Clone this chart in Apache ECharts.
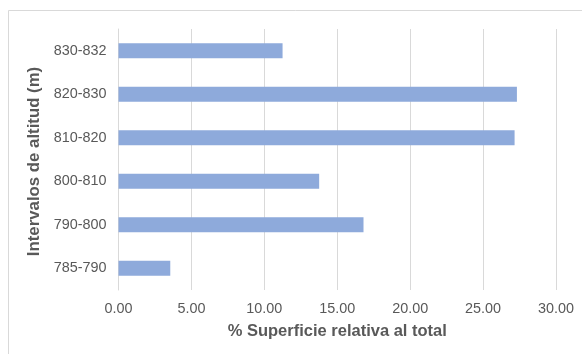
<!DOCTYPE html>
<html>
<head>
<meta charset="utf-8">
<script src="https://cdn.jsdelivr.net/npm/echarts@6/dist/echarts.min.js"></script>
<style>
  html, body { margin: 0; padding: 0; background: #ffffff; }
  #chart { width: 582px; height: 354px; }
</style>
</head>
<body>
<div id="chart"></div>
<script>
// Altitude bands (bottom to top) and share of total surface (%)
const categories = ['785-790', '790-800', '800-810', '810-820', '820-830', '830-832'];
const surfacePct = [3.55, 16.80, 13.76, 27.16, 27.32, 11.25];
const xTicks = [0, 5, 10, 15, 20, 25, 30];

const textColor = '#595959';
const gridColor = '#d9d9d9';
const fontFamily = '"Liberation Sans", Arial, sans-serif';

const chart = echarts.init(document.getElementById('chart'), null, { renderer: 'canvas' });

chart.setOption({
  animation: false,
  backgroundColor: '#ffffff',
  graphic: [{
    type: 'rect',
    shape: { x: 8.5, y: 10.5, width: 700, height: 500 },
    style: { fill: 'none', stroke: gridColor, lineWidth: 1 },
    silent: true,
    z: -1
  }],
  grid: { left: 118.5, right: 26, top: 29, bottom: 64 },
  xAxis: {
    type: 'value',
    min: xTicks[0],
    max: xTicks[xTicks.length - 1],
    interval: xTicks[1] - xTicks[0],
    name: '% Superficie relativa al total',
    nameLocation: 'middle',
    nameGap: 33,
    nameTextStyle: { color: textColor, fontSize: 16.5, fontWeight: 'bold', fontFamily },
    axisLine: { show: false },
    axisTick: { show: false },
    axisLabel: {
      color: textColor, fontSize: 14.4, fontFamily, margin: 12,
      formatter: v => v.toFixed(2)
    },
    splitLine: { show: true, lineStyle: { color: gridColor, width: 1 } }
  },
  yAxis: {
    type: 'category',
    data: categories,
    name: 'Intervalos de altitud (m)',
    nameLocation: 'middle',
    nameGap: 62,
    nameRotate: 90,
    nameTextStyle: { color: textColor, fontSize: 16.8, fontWeight: 'bold', fontFamily, padding: [0, 4, 0, 0] },
    axisLine: { show: true, lineStyle: { color: gridColor, width: 1 } },
    axisTick: { show: false },
    axisLabel: { color: textColor, fontSize: 14.4, fontFamily, margin: 12 },
    splitLine: { show: false }
  },
  series: [{
    type: 'bar',
    data: surfacePct,
    barWidth: 15,
    itemStyle: { color: '#8eaadb' }
  }]
});
</script>
</body>
</html>
